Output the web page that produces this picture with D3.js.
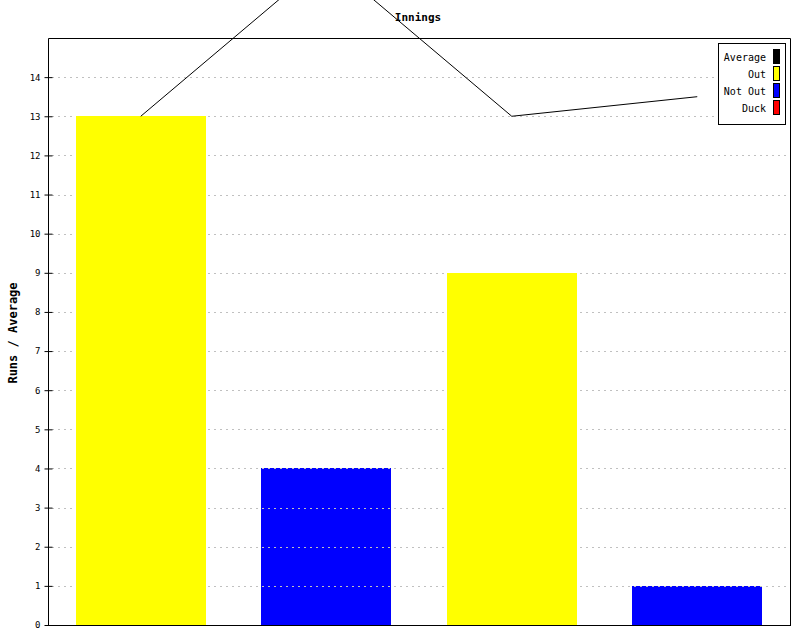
<!DOCTYPE html>
<html><head><meta charset="utf-8">
<script src="https://cdn.jsdelivr.net/npm/d3@7"></script>
<style>body{margin:0;background:#fff}svg{display:block}text{font-family:"DejaVu Sans Mono",monospace}</style>
</head><body>
<svg id="c" width="800" height="640"></svg>
<script>
const innings = ["1", "2", "3", "4"];
const runs = [13, 4, 9, 1];
const status = ["Out", "Not Out", "Out", "Not Out"];
const averages = [13, 17, 13, 13.5];
const yTicks = [0,1,2,3,4,5,6,7,8,9,10,11,12,13,14];
const legendLabels = ["Average", "Out", "Not Out", "Duck"];
const legendColors = ["#000000", "#ffff00", "#0000ff", "#ff0000"];
const colorMap = {"Out": "#ffff00", "Not Out": "#0000ff", "Duck": "#ff0000"};

const svg = d3.select("#c");
const L = 48.5, R = 790.5, T = 38.5, B = 625.5;
const x = d3.scaleBand().domain(innings).range([48, 790]).paddingInner(0.3).paddingOuter(0.15);
const y = d3.scaleLinear().domain([0, 15]).range([625, 38]);

// grid
function grid(g){
  g.selectAll("line").data(yTicks.filter(d=>d>0)).join("line")
   .attr("x1", 52).attr("x2", R)
   .attr("y1", d=>Math.round(y(d))+0.5).attr("y2", d=>Math.round(y(d))+0.5)
   .attr("stroke", "#c0c0c0").attr("stroke-dasharray", "2,4");
}
svg.append("g").call(grid);

// bars
svg.append("g").selectAll("rect").data(runs).join("rect")
  .attr("x", (d,i)=>Math.round(x(innings[i])))
  .attr("width", Math.round(x.bandwidth()))
  .attr("y", d=>Math.round(y(d)))
  .attr("height", d=>625 - Math.round(y(d)))
  .attr("fill", (d,i)=>colorMap[status[i]]);

// grid over blue bars
const defs = svg.append("defs");
const cp = defs.append("clipPath").attr("id", "blueclip");
cp.selectAll("rect").data(runs.map((d,i)=>({d,i})).filter(o=>status[o.i]==="Not Out")).join("rect")
  .attr("x", o=>Math.round(x(innings[o.i])))
  .attr("width", Math.round(x.bandwidth()))
  .attr("y", o=>Math.round(y(o.d))-1)
  .attr("height", o=>627 - Math.round(y(o.d)));
svg.append("g").attr("clip-path", "url(#blueclip)").call(grid);

// frame
svg.append("path").attr("d", `M${L},${B}V${T}H${R}V${B}`).attr("fill","none").attr("stroke","#000");
svg.append("line").attr("x1", L-0.5).attr("x2", R+0.5).attr("y1", B).attr("y2", B).attr("stroke","#000").attr("stroke-width",1);

// y axis ticks
const yAxis = d3.axisLeft(y).tickValues(yTicks).tickFormat(d3.format("d")).tickSize(4).tickPadding(4);
const ag = svg.append("g").attr("transform", `translate(${L},0)`).call(yAxis);
ag.select(".domain").remove();
ag.selectAll(".tick line").attr("x1", -4).attr("x2", 4).attr("stroke", "#000");
ag.selectAll(".tick text").attr("font-size", 9).attr("font-family", '"DejaVu Sans Mono",monospace').attr("fill", "#000");

// title and axis label
svg.append("text").attr("x", 418).attr("y", 21).attr("text-anchor","middle")
  .attr("font-size", 11).attr("font-weight","bold").text("Innings");
svg.append("text").attr("transform", "translate(17,333) rotate(-90)").attr("text-anchor","middle")
  .attr("font-size", 12).attr("font-weight","bold").text("Runs / Average");

// legend
const lg = svg.append("g");
lg.append("rect").attr("x", 718.5).attr("y", 43.5).attr("width", 67).attr("height", 81)
  .attr("fill","#fff").attr("stroke","#000");
legendLabels.forEach((lab,i)=>{
  const cy = 57 + i*17;
  lg.append("text").attr("x", 766).attr("y", cy+4).attr("text-anchor","end")
    .attr("font-size", 10).text(lab);
  lg.append("rect").attr("x", 773.5).attr("y", cy-7.5).attr("width", 6).attr("height", 14)
    .attr("fill", legendColors[i]).attr("stroke","#000");
});

// average line
const line = d3.line().x((d,i)=>x(innings[i]) + x.bandwidth()/2).y(d=>y(d));
svg.append("path").datum(averages).attr("d", line).attr("fill","none").attr("stroke","#000").attr("stroke-width",1);
</script>
</body></html>
